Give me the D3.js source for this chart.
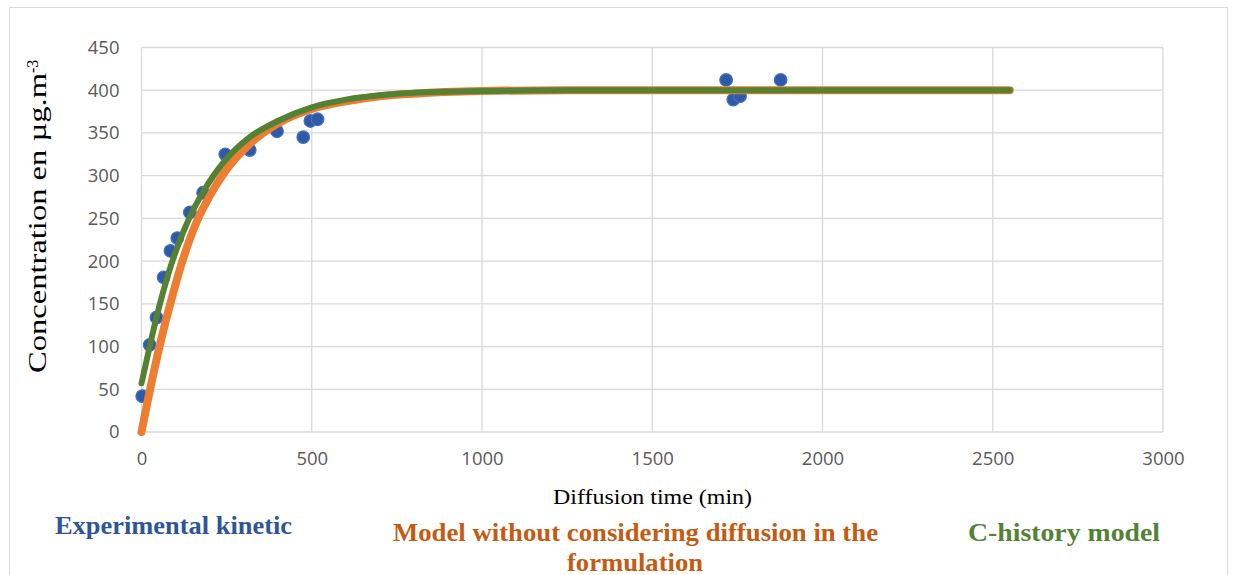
<!DOCTYPE html>
<html>
<head>
<meta charset="utf-8">
<script src="https://cdn.jsdelivr.net/npm/d3@7"></script>
<style>
  body { margin: 0; background: #fff; }
  svg { display: block; }
</style>
</head>
<body>
<svg id="chart" width="1235" height="575"></svg>
<script>
// experimental kinetic (time in min, concentration in µg.m-3)
var expTime = [2, 24, 44, 65, 85, 105, 142, 181, 246, 318, 398, 475, 496, 517, 1717, 1738, 1758, 1877];
var expConc = [42, 102, 134, 181, 212, 227, 257, 280, 325, 330, 352, 345, 364, 366, 412, 389, 393, 412];

// model without considering diffusion
var modelTime = [0, 20, 46, 65, 90, 114, 163, 200, 242, 320, 400, 500, 600, 700, 800, 1000, 1250, 1500, 2000, 2550];
var modelConc = [0, 40, 88, 120, 158, 192, 247, 276, 303, 338, 361, 378, 387, 393, 396, 399, 400, 400, 400, 400];

// C-history model
var histTime = [0, 24, 44, 65, 85, 105, 142, 181, 246, 318, 400, 500, 600, 700, 800, 1000, 1250, 1500, 2000, 2550];
var histConc = [57, 100, 134, 166, 193, 216, 252, 281, 318, 345, 364, 380, 389, 394, 397, 399, 400, 400, 400, 400];

var xTicks = [0, 500, 1000, 1500, 2000, 2500, 3000];
var yTicks = [0, 50, 100, 150, 200, 250, 300, 350, 400, 450];

var svg = d3.select('#chart');

// chart border
svg.append('rect')
  .attr('x', 9.5).attr('y', 7.5)
  .attr('width', 1218).attr('height', 620)
  .attr('fill', 'none').attr('stroke', '#d9d9d9');

var x = d3.scaleLinear().domain([0, 3000]).range([141.5, 1163]);
var y = d3.scaleLinear().domain([0, 450]).range([432, 47.5]);

// grid
svg.append('g').selectAll('line').data(yTicks).enter().append('line')
  .attr('x1', x(0)).attr('x2', x(3000))
  .attr('y1', function(d) { return y(d); }).attr('y2', function(d) { return y(d); })
  .attr('stroke', '#d9d9d9').attr('stroke-width', 1.3);
svg.append('g').selectAll('line').data(xTicks).enter().append('line')
  .attr('y1', y(0)).attr('y2', y(450))
  .attr('x1', function(d) { return x(d); }).attr('x2', function(d) { return x(d); })
  .attr('stroke', '#d9d9d9').attr('stroke-width', 1.3);

// axes labels
var tickFont = '"Open Sans", sans-serif';
var yAxis = svg.append('g').attr('transform', 'translate(' + (x(0) - 22) + ',0)')
  .call(d3.axisLeft(y).tickValues(yTicks).tickFormat(d3.format('d')).tickSize(0).tickPadding(0));
yAxis.select('.domain').remove();
yAxis.selectAll('text').attr('font-family', tickFont).attr('font-size', 18.5).attr('fill', '#595959');

var xAxis = svg.append('g').attr('transform', 'translate(0,' + (y(0) + 20) + ')')
  .call(d3.axisBottom(x).tickValues(xTicks).tickFormat(d3.format('d')).tickSize(0).tickPadding(0));
xAxis.select('.domain').remove();
xAxis.selectAll('text').attr('font-family', tickFont).attr('font-size', 18.5).attr('fill', '#595959');

// experimental points
var expData = expTime.map(function(t, i) { return [t, expConc[i]]; });
svg.append('g').selectAll('circle').data(expData).enter().append('circle')
  .attr('cx', function(d) { return x(d[0]); })
  .attr('cy', function(d) { return y(d[1]); })
  .attr('r', 6.3)
  .attr('fill', '#2f5aa6').attr('stroke', '#4472c4').attr('stroke-width', 1.2);

var line = d3.line()
  .x(function(d) { return x(d[0]); })
  .y(function(d) { return y(d[1]); })
  .curve(d3.curveMonotoneX);

var modelData = modelTime.map(function(t, i) { return [t, modelConc[i]]; });
svg.append('path').datum(modelData)
  .attr('d', line).attr('fill', 'none')
  .attr('stroke', '#ed7d31').attr('stroke-width', 8).attr('stroke-linecap', 'round');

var histData = histTime.map(function(t, i) { return [t, histConc[i]]; });
svg.append('path').datum(histData)
  .attr('d', line).attr('fill', 'none')
  .attr('stroke', '#548235').attr('stroke-width', 6).attr('stroke-linecap', 'round');

// axis titles
var serif = '"Liberation Serif", "Times New Roman", serif';
var yt = svg.append('text')
  .attr('transform', 'translate(46,373) rotate(-90)')
  .attr('font-family', serif).attr('font-size', 25).attr('fill', '#000');
yt.append('tspan').attr('textLength', 300).attr('lengthAdjust', 'spacingAndGlyphs')
  .text('Concentration en µg.m');
yt.append('tspan').attr('baseline-shift', 'super').attr('font-size', 16).text('-3');

svg.append('text')
  .attr('x', 553).attr('y', 504)
  .attr('textLength', 199).attr('lengthAdjust', 'spacingAndGlyphs')
  .attr('font-family', serif).attr('font-size', 20).attr('fill', '#000')
  .text('Diffusion time (min)');

// legend
var legendItems = [
  { text: 'Experimental kinetic', x: 55, y: 534, w: 237, color: '#2f5597' },
  { text: 'Model without considering diffusion in the', x: 393, y: 541, w: 485, color: '#c55a11' },
  { text: 'formulation', x: 567, y: 571, w: 136, color: '#c55a11' },
  { text: 'C-history model', x: 968, y: 541, w: 192, color: '#548235' }
];
svg.append('g')
  .attr('font-family', serif).attr('font-size', 25).attr('font-weight', 'bold')
  .selectAll('text').data(legendItems).enter().append('text')
  .attr('x', function(d) { return d.x; })
  .attr('y', function(d) { return d.y; })
  .attr('textLength', function(d) { return d.w; })
  .attr('lengthAdjust', 'spacingAndGlyphs')
  .attr('fill', function(d) { return d.color; })
  .text(function(d) { return d.text; });
</script>
</body>
</html>
